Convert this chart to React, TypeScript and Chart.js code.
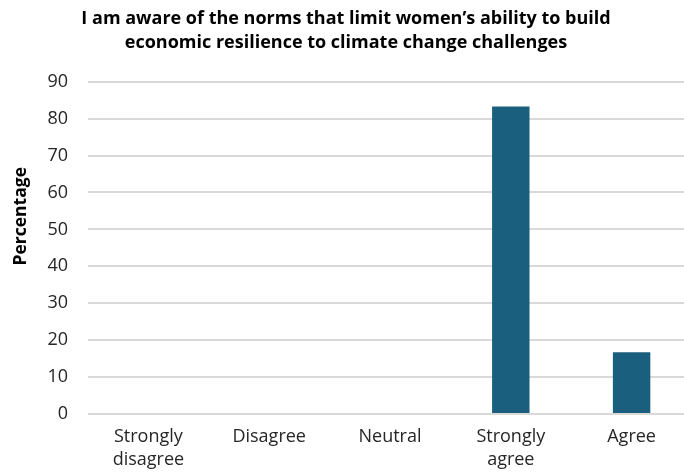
import React, { useEffect, useRef } from "react";
import { Chart, registerables } from "chart.js";

Chart.register(...registerables);

const categories: (string | string[])[] = [
  ["Strongly", "disagree"],
  "Disagree",
  "Neutral",
  ["Strongly", "agree"],
  "Agree",
];
const percentages: number[] = [0, 0, 0, 83.3, 16.7];
const titleLines: string[] = [
  "I am aware of the norms that limit women\u2019s ability to build",
  "economic resilience to climate change challenges",
];
const yAxisTitle = "Percentage";
const yMin = 0;
const yMax = 90;
const yStep = 10;

const BAR_COLOR = "#1a5f7e";
const GRID_COLOR = "#d9d9d9";
const TEXT_COLOR = "#262626";
const FONT = "'Open Sans', Lato, sans-serif";

// Rotated y-axis caption, placed a little above the vertical middle of the plot.
const yCaptionPlugin = {
  id: "yCaption",
  afterDraw(chart: any) {
    const { ctx, chartArea } = chart;
    const cy = chartArea.top + (chartArea.bottom - chartArea.top) * 0.405;
    ctx.save();
    ctx.translate(21, cy);
    ctx.rotate(-Math.PI / 2);
    ctx.font = `bold 17.5px ${FONT}`;
    ctx.fillStyle = "#000000";
    ctx.textAlign = "center";
    ctx.textBaseline = "middle";
    ctx.fillText(yAxisTitle, 0, 0);
    ctx.restore();
  },
};

export default function App() {
  const canvasRef = useRef<HTMLCanvasElement | null>(null);

  useEffect(() => {
    if (!canvasRef.current) return;
    const chart = new Chart(canvasRef.current, {
      type: "bar",
      data: {
        labels: categories,
        datasets: [
          {
            data: percentages,
            backgroundColor: BAR_COLOR,
            borderWidth: 0,
            categoryPercentage: 1,
            barPercentage: 0.31,
          },
        ],
      },
      options: {
        animation: false,
        responsive: true,
        maintainAspectRatio: false,
        layout: { padding: { left: 0, right: 0, top: 0, bottom: 0 } },
        plugins: {
          legend: { display: false },
          tooltip: { enabled: false },
          title: {
            display: true,
            text: titleLines,
            color: "#000000",
            font: {
              family: FONT,
              size: 18,
              weight: "bold",
              lineHeight: 1.38,
            },
            padding: { top: 6, bottom: 26 },
          },
        },
        scales: {
          x: {
            grid: { display: false, drawTicks: false },
            border: { display: false },
            ticks: {
              color: TEXT_COLOR,
              font: { family: FONT, size: 18, lineHeight: 1.24 },
              padding: 12,
              maxRotation: 0,
              autoSkip: false,
            },
            afterFit: (scale: any) => {
              scale.height = 59;
            },
          },
          y: {
            min: yMin,
            max: yMax,
            grid: { color: GRID_COLOR, lineWidth: 2, drawTicks: false },
            border: { display: false },
            ticks: {
              stepSize: yStep,
              color: TEXT_COLOR,
              font: { family: FONT, size: 18 },
              padding: 20,
            },
            afterFit: (scale: any) => {
              scale.width = 88;
            },
          },
        },
      },
      plugins: [yCaptionPlugin],
    });
    return () => chart.destroy();
  }, []);

  return (
    <div
      style={{
        position: "fixed",
        left: 0,
        top: 0,
        width: 684,
        height: 473,
        overflow: "hidden",
        background: "#ffffff",
      }}
    >
      <div style={{ position: "relative", width: 692, height: 473 }}>
        <canvas ref={canvasRef} />
      </div>
    </div>
  );
}
